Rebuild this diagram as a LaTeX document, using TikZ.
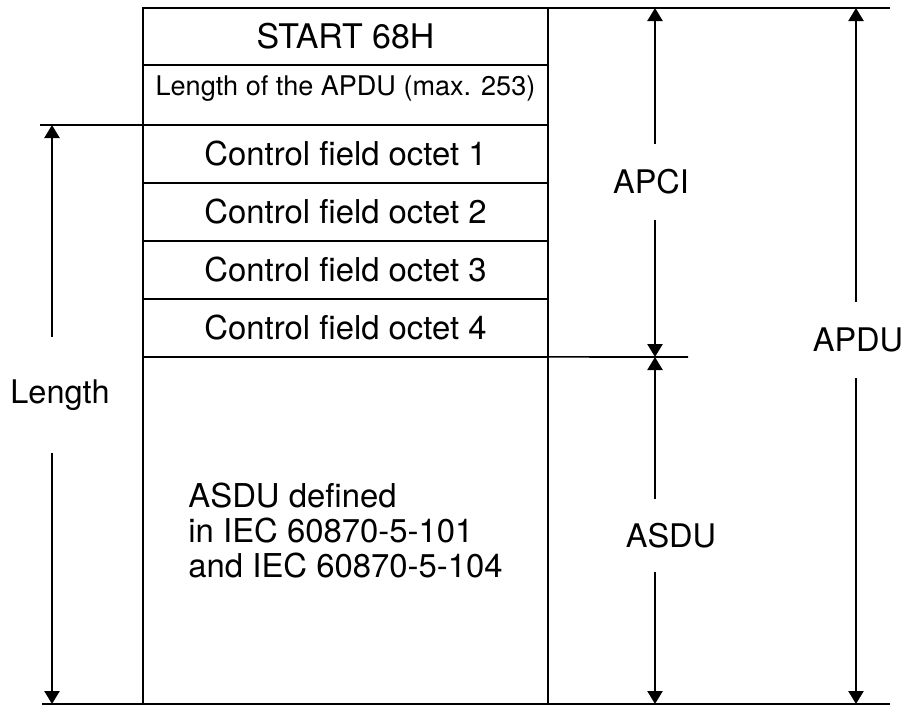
\documentclass[tikz,border=0pt]{standalone}
\usepackage{fontspec}
\setmainfont{TeX Gyre Heros}
\usetikzlibrary{positioning, arrows.meta}

\begin{document}
\begin{tikzpicture}[x=0.02cm, y=-0.02cm, node distance=0pt,
    campo/.style={rectangle, draw, line width=1.4pt, outer sep=0pt, minimum width=8.1cm, align=left, font=\fontsize{18.7}{20}\selectfont},
    etiqueta/.style={inner sep=0pt, outer sep=0pt, font=\fontsize{18.5}{20}\selectfont},
    flecha/.style={line width=1.3pt, -{Triangle[length=0.26cm, width=0.3cm]}},
    cota/.style={line width=0.9pt}]
    \useasboundingbox (0,0) rectangle (906,707);
    % campos del APDU
    \node[campo, anchor=north, minimum height=1.14cm, font=\fontsize{19.3}{20}\selectfont] (start) at (345.5,8) {START 68H};
    \node[campo, minimum height=1.2cm, text depth=0.38cm, font=\fontsize{15.4}{17}\selectfont] (len) [below=of start] {Length of the APDU (max. 253)};
    \node[campo, minimum height=1.16cm] (oct1) [below=of len] {Control field octet 1};
    \node[campo, minimum height=1.16cm] (oct2) [below=of oct1] {Control field octet 2};
    \node[campo, minimum height=1.16cm] (oct3) [below=of oct2] {Control field octet 3};
    \node[campo, minimum height=1.16cm] (oct4) [below=of oct3] {Control field octet 4};
    \node[campo, minimum height=6.94cm] (asdu) [below=of oct4] {ASDU defined\\in IEC 60870-5-101\\and IEC 60870-5-104};
    % lineas de cota
    \coordinate (topend) at (890,8);
    \coordinate (lenstart) at (40,125);
    \coordinate (midend) at (688,357);
    \coordinate (botstart) at (42,704);
    \coordinate (botend) at (890,704);
    \draw[cota] (start.north east) -- (topend);
    \draw[cota] (lenstart) -- (len.south west);
    \draw[cota] (oct4.south east) -- (midend);
    \draw[cota] (botstart) -- (botend);
    % extremos de las flechas
    \coordinate (lentop) at (52,125);
    \coordinate (lenbot) at (52,704);
    \coordinate (apcitop) at (655,8);
    \coordinate (apcibot) at (655,357);
    \coordinate (asdubot) at (655,704);
    \coordinate (apdutop) at (856,8);
    \coordinate (apdubot) at (856,704);
    % etiquetas
    \node[etiqueta, minimum height=2.32cm] (length) at (60,395) {Length};
    \node[etiqueta, minimum height=1.54cm] (apci) at (651,182) {APCI};
    \node[etiqueta, minimum height=1.46cm] (asdulbl) at (671,535.5) {ASDU};
    \node[etiqueta, minimum height=1.52cm] (apdu) at (858,340) {APDU};
    \draw[flecha] (length.north -| lentop) -- (lentop);
    \draw[flecha] (length.south -| lenbot) -- (lenbot);
    \draw[flecha] (apci.north -| apcitop) -- (apcitop);
    \draw[flecha] (apci.south -| apcibot) -- (apcibot);
    \draw[flecha] (asdulbl.north -| apcibot) -- (apcibot);
    \draw[flecha] (asdulbl.south -| asdubot) -- (asdubot);
    \draw[flecha] (apdu.north -| apdutop) -- (apdutop);
    \draw[flecha] (apdu.south -| apdubot) -- (apdubot);
\end{tikzpicture}
\end{document}
